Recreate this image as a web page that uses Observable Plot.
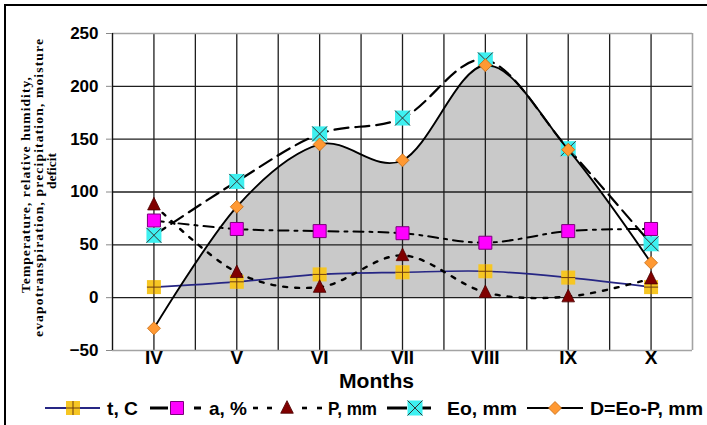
<!DOCTYPE html>
<html><head><meta charset="utf-8">
<script src="https://cdn.jsdelivr.net/npm/d3@7"></script>
<script src="https://cdn.jsdelivr.net/npm/@observablehq/plot@0.6"></script>
<style>
html,body{margin:0;padding:0;background:#fff;}
#wrap{position:relative;width:707px;height:425px;overflow:hidden;background:#fff;}
#border{position:absolute;left:4px;top:4px;width:720px;height:440px;border-left:2px solid #000;border-top:2px solid #000;box-sizing:border-box;}
#chart,#over{position:absolute;left:0;top:0;}
#over{pointer-events:none;}
</style></head><body>
<div id="wrap"><div id="border"></div><div id="chart"></div><svg id="over" width="707" height="425"></svg></div>
<script>
// ---- data ----
const months = ["IV", "V", "VI", "VII", "VIII", "IX", "X"];
const tC   = [10, 15, 22, 24, 25, 19, 10];      // t, C
const aPct = [73, 65, 63, 61, 52, 63, 65];      // a, %
const pMm  = [88, 24, 10, 40, 5, 1, 18];        // P, mm
const eoMm = [59, 110, 155, 170, 225, 141, 51]; // Eo, mm
const dMm  = [-29, 86, 145, 130, 220, 140, 33]; // D=Eo-P, mm
const yTicks = [-50, 0, 50, 100, 150, 200, 250];
const seriesLabels = ["t, C", "a, %", "P, mm", "Eo, mm", "D=Eo-P, mm"];
const yLabelLines = ["Temperature, relative humidity,", "evapotranspiration, precipitation, moisture", "deficit"];
const xLabel = "Months";

const data = months.map((m, i) => ({i, m, t: tC[i], a: aPct[i], p: pMm[i], eo: eoMm[i], d: dMm[i]}));
const idx = months.map((_, i) => i);
const gridX = idx.flatMap(i => i < months.length - 1 ? [i, i + 0.5] : [i]);
const innerY = yTicks.slice(1, -1);

// ---- custom symbols ----
const sq = {draw(c, size){const s = Math.sqrt(size)/2; c.moveTo(-s,-s); c.lineTo(s,-s); c.lineTo(s,s); c.lineTo(-s,s); c.closePath();}};
const plus = {draw(c, size){const s = Math.sqrt(size)/2; c.moveTo(-s,0); c.lineTo(s,0); c.moveTo(0,-s); c.lineTo(0,s);}};
const times = {draw(c, size){const s = Math.sqrt(size)/2; c.moveTo(-s,-s); c.lineTo(s,s); c.moveTo(s,-s); c.lineTo(-s,s);}};
const tri = {draw(c, size){const s = Math.sqrt(size)/2; c.moveTo(0,-s*1.05); c.lineTo(s*0.9,s*0.75); c.lineTo(-s*0.9,s*0.75); c.closePath();}};
const dia = {draw(c, size){const s = Math.sqrt(size)/2; c.moveTo(0,-s); c.lineTo(s,0); c.lineTo(0,s); c.lineTo(-s,0); c.closePath();}};
const R = side => side / Math.sqrt(Math.PI);

const lineBlack = "#000";
const chart = Plot.plot({
  width: 707, height: 392,
  marginTop: 33, marginLeft: 112, marginRight: 15, marginBottom: 42,
  x: {type: "linear", domain: [-0.5, months.length - 0.5]},
  y: {domain: [yTicks[0], yTicks[yTicks.length - 1]]},
  style: {fontFamily: "'Liberation Sans', Arial, sans-serif", fontWeight: "bold", color: "#000", background: "transparent", overflow: "visible"},
  marks: [
    Plot.areaY(data, {x: "i", y1: 0, y2: "d", curve: "cardinal", fill: "#c9c9c9"}),
    Plot.ruleX(gridX, {stroke: "#1e1e1e", strokeWidth: 1.3}),
    Plot.ruleY(innerY, {stroke: "#1e1e1e", strokeWidth: 1.3}),
    Plot.ruleY([yTicks[0], yTicks[yTicks.length - 1]], {stroke: "#a3a3a3", strokeWidth: 1.6}),
    Plot.ruleX([months.length - 0.5], {stroke: "#a3a3a3", strokeWidth: 1.6}),
    Plot.ruleX([-0.5], {stroke: "#111", strokeWidth: 1.4}),
    Plot.axisY(yTicks, {tickSize: 6, tickPadding: 8, fontSize: 17, stroke: "#888", label: null}),
    Plot.axisX(idx, {tickFormat: i => months[i], tickSize: 0, tickPadding: 0, fontSize: 19, label: null}),
    // t, C
    Plot.line(data, {x: "i", y: "t", curve: "cardinal", stroke: "#262684", strokeWidth: 1.7}),
    Plot.dot(data, {x: "i", y: "t", symbol: sq, r: R(14), fill: "#f6c623", stroke: "none"}),
    Plot.dot(data, {x: "i", y: "t", symbol: plus, r: R(14), fill: "none", stroke: "#6b3a10", strokeWidth: 1}),
    // a, %
    Plot.line(data, {x: "i", y: "a", curve: "cardinal", stroke: lineBlack, strokeWidth: 2, strokeDasharray: "10,6,3,6"}),
    Plot.dot(data, {x: "i", y: "a", symbol: sq, r: R(13), fill: "#ff00ff", stroke: "#7a007a", strokeWidth: 1}),
    // P, mm
    Plot.line(data, {x: "i", y: "p", curve: "cardinal", stroke: lineBlack, strokeWidth: 2.4, strokeDasharray: "4,8"}),
    Plot.dot(data, {x: "i", y: "p", symbol: tri, r: R(14), fill: "#800000", stroke: "#4a0000", strokeWidth: 0.8}),
    // Eo, mm
    Plot.line(data, {x: "i", y: "eo", curve: "cardinal", stroke: lineBlack, strokeWidth: 2.2, strokeDasharray: "14,7"}),
    Plot.dot(data, {x: "i", y: "eo", symbol: sq, r: R(15), fill: "#3ef0f0", stroke: "none"}),
    Plot.dot(data, {x: "i", y: "eo", symbol: times, r: R(15), fill: "none", stroke: "#333", strokeWidth: 1}),
    // D=Eo-P, mm
    Plot.line(data, {x: "i", y: "d", curve: "cardinal", stroke: lineBlack, strokeWidth: 1.9}),
    Plot.dot(data, {x: "i", y: "d", symbol: dia, r: R(13), fill: "#ff9933", stroke: "#c46a10", strokeWidth: 0.8})
  ]
});
document.getElementById("chart").appendChild(chart);

// clip the grey area to positive values and up to the gridline between IX and X
(function(){
  const sx = chart.scale("x"), sy = chart.scale("y");
  const x0 = sx.apply(-0.5), x1 = sx.apply(months.length - 1.5);
  const y0 = sy.apply(yTicks[yTicks.length - 1]), y1 = sy.apply(0);
  const svg = d3.select(chart);
  svg.insert("defs", ":first-child").append("clipPath").attr("id", "greyclip")
    .append("rect").attr("x", x0).attr("y", y0).attr("width", x1 - x0).attr("height", y1 - y0);
  svg.selectAll('g[aria-label="area"]').attr("clip-path", "url(#greyclip)");
})();

// ---- overlay texts & legend ----
const over = d3.select("#over");
const serif = "'Liberation Serif', 'Times New Roman', serif";
const sans = "'Liberation Sans', Arial, sans-serif";
const ylPos = [{x: 30, y: 185, len: 216}, {x: 43, y: 188, len: 298}, {x: 56, y: 171, len: 36}];
yLabelLines.forEach((t, k) => {
  over.append("text").text(t)
    .attr("transform", `translate(${ylPos[k].x},${ylPos[k].y}) rotate(-90)`)
    .attr("text-anchor", "middle").attr("font-family", serif).attr("font-weight", "bold").attr("font-size", 13.5)
    .attr("textLength", ylPos[k].len).attr("lengthAdjust", "spacing");
});
over.append("text").text(xLabel).attr("x", 339).attr("y", 388)
  .attr("font-family", sans).attr("font-weight", "bold").attr("font-size", 20)
  .attr("textLength", 75).attr("lengthAdjust", "spacingAndGlyphs");

const ly = 408, lb = 415;
const g = over.append("g");
function seg(x1, x2, opts = {}) {
  g.append("line").attr("x1", x1).attr("x2", x2).attr("y1", ly).attr("y2", ly)
    .attr("stroke", opts.stroke || "#000").attr("stroke-width", opts.w || 2.4)
    .attr("stroke-dasharray", opts.dash || null);
}
function sym(type, side, x, fill, stroke, sw) {
  g.append("path").attr("d", d3.symbol().type(type).size(side * side)()).attr("transform", `translate(${x},${ly})`)
    .attr("fill", fill).attr("stroke", stroke).attr("stroke-width", sw || 1);
}
function lab(t, x, len) {
  g.append("text").text(t).attr("x", x).attr("y", lb).attr("font-family", sans).attr("font-weight", "bold")
    .attr("font-size", 19).attr("textLength", len).attr("lengthAdjust", "spacingAndGlyphs");
}
// t, C
seg(45, 100, {stroke: "#262684", w: 2});
sym(sq, 14, 73, "#f6c623", "none"); sym(plus, 14, 73, "none", "#6b3a10");
lab(seriesLabels[0], 107, 31);
// a, %
seg(150, 168, {w: 3}); seg(194, 201, {w: 3});
sym(sq, 13, 177, "#ff00ff", "#7a007a");
lab(seriesLabels[1], 209, 38);
// P, mm
seg(253, 258, {w: 2.6}); seg(267, 272, {w: 2.6}); seg(302, 307, {w: 2.6}); seg(317, 322, {w: 2.6});
sym(tri, 14, 287, "#800000", "#4a0000", 0.8);
lab(seriesLabels[2], 328, 49);
// Eo, mm
seg(387, 407, {w: 3}); seg(422, 431, {w: 3});
sym(sq, 15, 415, "#3ef0f0", "none"); sym(times, 15, 415, "none", "#333");
lab(seriesLabels[3], 447, 70);
// D
seg(527, 583, {w: 2});
sym(dia, 13, 555, "#ff9933", "#c46a10", 0.8);
lab(seriesLabels[4], 590, 113);
</script>
</body></html>
